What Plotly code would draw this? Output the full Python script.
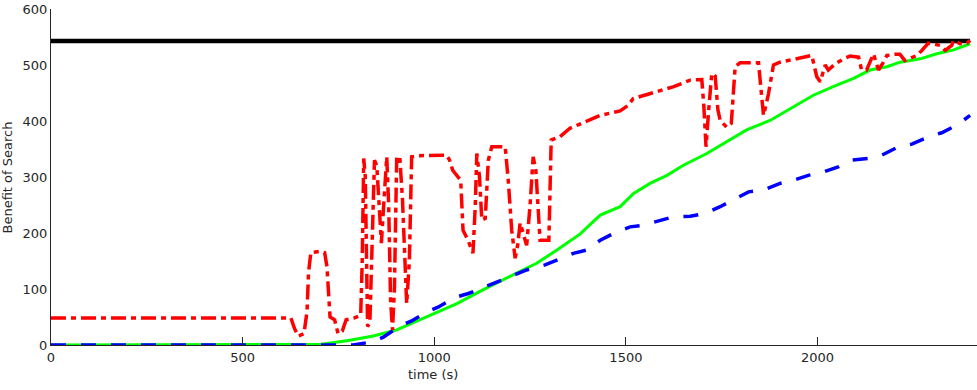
import plotly.graph_objects as go

# time axis (s) and series values
t_red = [0, 626, 635, 645, 660, 668, 672, 678, 700, 714, 720, 724, 728, 740, 749, 760, 770, 790, 808,
         812, 816, 820, 824, 826, 832, 838, 844, 850, 856, 862, 868, 876, 881, 886, 891, 896, 902, 910,
         917, 922, 928, 935, 941, 960, 1000, 1032, 1040, 1048, 1069, 1075, 1088, 1101, 1107, 1111, 1118,
         1124, 1133, 1141, 1150, 1185, 1193, 1202, 1211, 1218, 1224, 1232, 1241, 1250, 1258, 1265, 1276,
         1290, 1299, 1305, 1328, 1354, 1400, 1433, 1485, 1506, 1519, 1589, 1623, 1668, 1698, 1703, 1709,
         1716, 1724, 1733, 1740, 1746, 1763, 1775, 1785, 1798, 1846, 1852, 1859, 1866, 1872, 1885, 1902,
         1937, 1972, 1985, 1998, 2007, 2020, 2028, 2046, 2068, 2085, 2107, 2115, 2128, 2146, 2159, 2170,
         2181, 2202, 2215, 2228, 2246, 2259, 2272, 2289, 2307, 2320, 2333, 2350, 2355, 2372, 2390, 2398]
v_red = [48, 48, 30, 16, 20, 60, 130, 165, 167, 165, 140, 90, 50, 45, 20, 25, 45, 48, 53,
         150, 333, 300, 100, 33, 40, 200, 330, 320, 240, 182, 250, 336, 250, 80, 27, 100, 336, 336,
         260, 180, 74, 150, 336, 338, 339, 339, 330, 312, 294, 205, 187, 164, 250, 342, 300,
         223, 226, 330, 354, 354, 294, 205, 155, 180, 218, 200, 178, 250, 336, 312, 187,
         187, 187, 366, 372, 387, 400, 410, 418, 428, 440, 455, 461, 473, 474, 430, 354,
         420, 485, 480, 420, 401, 389, 396, 497, 504, 504, 460, 410, 430, 449, 500, 505,
         510, 514, 517, 479, 470, 500, 491, 502, 511, 516, 514, 491, 491, 520, 491, 503,
         517, 519, 519, 508, 514, 517, 526, 539, 537, 535, 526, 535, 544, 538, 539, 544]

t_green = [0, 650, 700, 772, 841, 902, 972, 1059, 1128, 1215, 1267, 1320, 1380, 1433, 1485, 1520,
           1563, 1607, 1650, 1711, 1772, 1815, 1876, 1937, 1989, 2050, 2094, 2137, 2181, 2215, 2268,
           2311, 2355, 2398]
v_green = [0, 0, 1, 7.7, 16, 27, 47.6, 74, 99, 128, 146, 169.5, 198, 232, 247, 270.6,
           288.5, 303, 321, 342, 366, 384, 401, 425, 446, 464, 476, 491, 497, 505, 511,
           520, 527, 538]

t_blue = [0, 788, 841, 867, 911, 941, 980, 1011, 1054, 1089, 1133, 1167, 1211, 1241, 1289, 1320,
          1363, 1398, 1433, 1467, 1511, 1546, 1589, 1624, 1668, 1707, 1746, 1781, 1820, 1859, 1902,
          1937, 1976, 2015, 2054, 2089, 2133, 2168, 2211, 2246, 2289, 2324, 2363, 2398]
v_blue = [0, 0, 6, 14, 34, 43, 59, 68, 85, 92, 104, 113, 125, 134, 143, 152,
          163.6, 169.5, 187, 199, 211, 214, 223, 229, 230, 235, 247, 259, 273.5, 276.5, 288.5,
          294, 303, 309, 318, 330, 333, 339, 354, 358.6, 371.6, 379, 392.5, 410]

t_black = [0, 2398]
v_black = [543, 543]

x_ticks = [0, 500, 1000, 1500, 2000]
y_ticks = [0, 100, 200, 300, 400, 500, 600]

axis_col = "#262626"

fig = go.Figure()
fig.add_trace(go.Scatter(x=t_black, y=v_black, mode="lines",
                         line=dict(color="black", width=4.5)))
fig.add_trace(go.Scatter(x=t_green, y=v_green, mode="lines",
                         line=dict(color="#00ff00", width=3)))
fig.add_trace(go.Scatter(x=t_blue, y=v_blue, mode="lines",
                         line=dict(color="#0000ff", width=3.5, dash="15px,15px")))
fig.add_trace(go.Scatter(x=t_red, y=v_red, mode="lines",
                         line=dict(color="#ff0000", width=3.5, dash="15px,5px,5px,5px")))

fig.update_layout(
    width=977, height=390,
    margin=dict(l=51, r=0, t=9, b=45),
    plot_bgcolor="white", paper_bgcolor="white",
    showlegend=False,
    font=dict(family="DejaVu Sans", size=13, color=axis_col),
    xaxis=dict(range=[0, 2416], tickvals=x_ticks, ticks="inside", ticklen=8,
               tickcolor=axis_col, showline=True, linecolor=axis_col, linewidth=1,
               showgrid=False, zeroline=False),
    yaxis=dict(range=[0, 600], tickvals=y_ticks, ticks="", showline=True,
               linecolor=axis_col, linewidth=1, showgrid=False, zeroline=False),
    annotations=[
        dict(text="time (s)", xref="paper", yref="paper", x=0.4125, y=-0.089,
             xanchor="center", yanchor="middle", showarrow=False, font=dict(size=13)),
        dict(text="Benefit of Search", xref="paper", yref="paper", x=-0.047, y=0.5,
             xanchor="center", yanchor="middle", textangle=-90, showarrow=False,
             font=dict(size=13)),
    ],
)

# page has a default body margin; drop it so the figure fills the window exactly
fix_page = ("document.body.style.margin='0';document.body.style.overflow='hidden';"
            "Plotly.relayout('{plot_id}', {width: 977, height: 390});")
fig.write_html("out.html", post_script=fix_page, config={"displayModeBar": False})
